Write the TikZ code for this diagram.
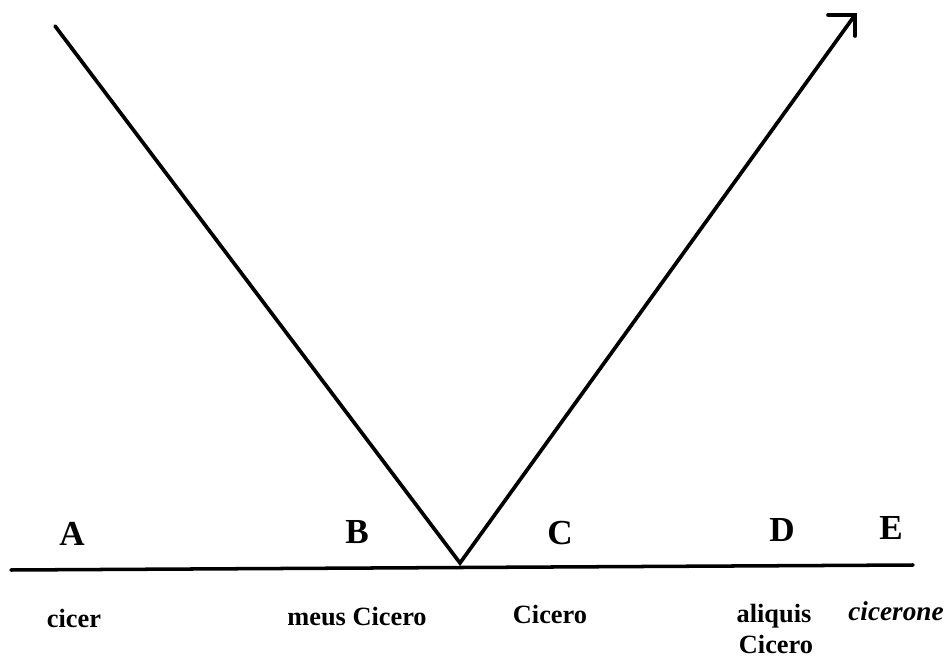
\documentclass[tikz,border=0pt]{standalone}
\usepackage{fontspec}
\setmainfont{Liberation Serif}
\tikzset{
  vline/.style={line width=2.1pt, line join=miter, line cap=round},
  axisline/.style={line width=2pt, line cap=round},
  pointlbl/.style={font=\fontsize{20}{22}\selectfont\bfseries, inner sep=0pt, anchor=base},
  formlbl/.style={font=\fontsize{15}{17}\selectfont\bfseries, inner sep=0pt, anchor=base},
  formit/.style={font=\fontsize{15.5}{17}\selectfont\bfseries\itshape, inner sep=0pt, anchor=base}
}
\begin{document}
\begin{tikzpicture}[x=0.02cm, y=-0.02cm]
  \useasboundingbox (0,0) rectangle (949,661);
  % the V and its arrow
  \coordinate (vstart) at (55,26);
  \coordinate (apex) at (460,563);
  \coordinate (tip) at (855,15);
  \draw[vline] (vstart) -- (apex) -- (tip);
  \draw[vline] (tip) ++(-27,0) -- (tip) -- ++(0,21);
  % the scale
  \coordinate (axw) at (11,570);
  \coordinate (axe) at (913,565);
  \draw[axisline] (axw) -- (axe);
  % points on the scale
  \node[pointlbl] (ptA) at (72,545) {A};
  \node[pointlbl] (ptB) at (357,543) {B};
  \node[pointlbl] (ptC) at (560,544) {C};
  \node[pointlbl] (ptD) at (782,541) {D};
  \node[pointlbl] (ptE) at (891,540) {E};
  % forms under them
  \node[formlbl] (fA) at (74,627) {cicer};
  \node[formlbl] (fB) at (357,625) {meus Cicero};
  \node[formlbl] (fC) at (550,623) {Cicero};
  \node[formlbl] (fD) at (774,622) {aliquis};
  \node[formlbl] (fD2) at (776,653) {Cicero};
  \node[formit] (fE) at (896,620) {cicerone};
\end{tikzpicture}
\end{document}
